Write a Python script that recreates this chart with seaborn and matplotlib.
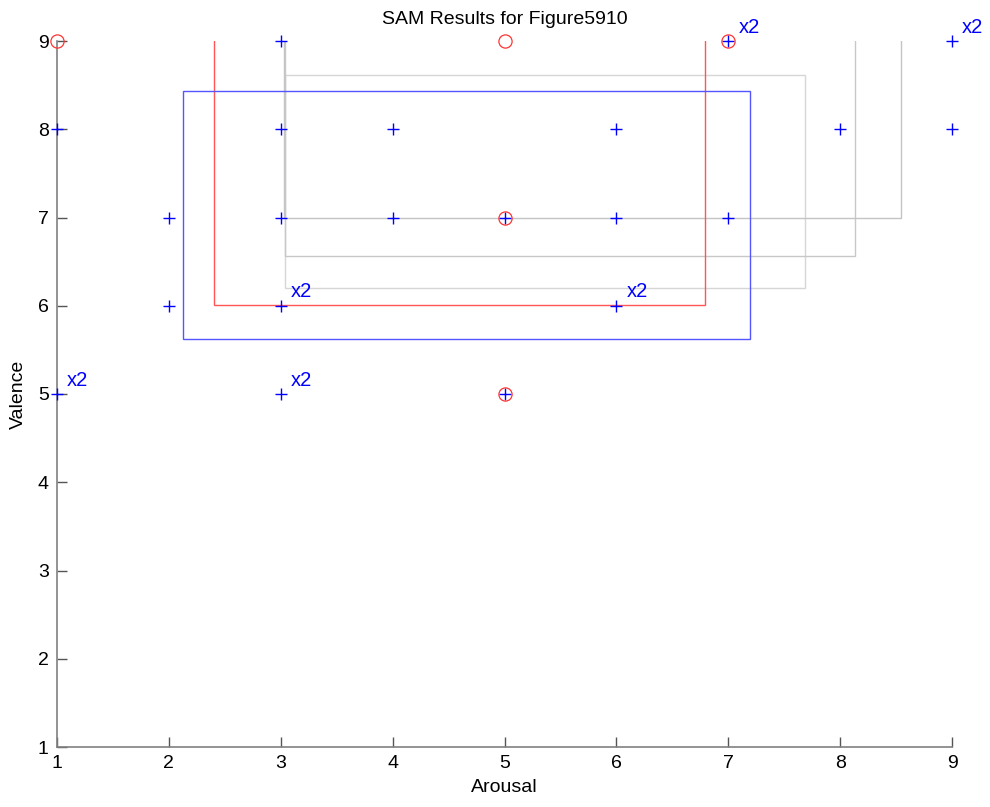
import matplotlib
matplotlib.use("Agg")
import matplotlib.pyplot as plt
import seaborn as sns
import pandas as pd
from matplotlib.patches import Rectangle

sns.set_theme(style="white")
plt.rcParams['font.family'] = ['Liberation Sans', 'DejaVu Sans']
plt.rcParams['text.color'] = 'black'
plt.rcParams['axes.labelcolor'] = 'black'

# Blue '+' responses (arousal, valence)
blue_x = [1, 1, 2, 2, 3, 3, 3, 3, 3, 4, 4, 5, 5, 6, 6, 6, 7, 7, 8, 9, 9]
blue_y = [8, 5, 7, 6, 9, 8, 7, 6, 5, 8, 7, 7, 5, 8, 7, 6, 9, 7, 8, 9, 8]

# Red circles
red_x = [1, 5, 5, 5, 7]
red_y = [9, 9, 7, 5, 9]

# Duplicate counts
dup_x = [1, 3, 3, 6, 7, 9]
dup_y = [5, 6, 5, 6, 9, 9]
dup_labels = ["x2", "x2", "x2", "x2", "x2", "x2"]

# Rectangles: (x0, y0, x1, y1)
rect_names = ["gray1", "gray2", "gray3", "red", "blue"]
rect_x0 = [3.04, 3.04, 3.03, 2.40, 2.13]
rect_y0 = [6.205, 6.565, 7.00, 6.01, 5.627]
rect_x1 = [7.69, 8.135, 8.545, 6.79, 7.19]
rect_y1 = [8.61, 9.40, 9.45, 9.35, 8.433]
rect_colors = ["#d6d6d6", "#c8c8c8", "#c4c4c4", "#ff5555", "#5555ff"]

fig = plt.figure(figsize=(9.9, 8.07), dpi=100)
ax = fig.add_axes([57/990, 1-747/807, (952-57)/990, (747-41)/807])

for x0, y0, x1, y1, c in zip(rect_x0, rect_y0, rect_x1, rect_y1, rect_colors):
    ax.add_patch(Rectangle((x0, y0), x1-x0, y1-y0, fill=False, edgecolor=c,
                           linewidth=1.0, clip_on=True))

dfb = pd.DataFrame({"Arousal": blue_x, "Valence": blue_y})
sns.scatterplot(data=dfb, x="Arousal", y="Valence", marker="+", color="blue",
                s=80, linewidth=1.0, ax=ax, zorder=3, clip_on=False)
ax.plot(red_x, red_y, linestyle="none", marker="o", markersize=9.5,
        markerfacecolor="none", markeredgecolor="#ff3333", markeredgewidth=0.9,
        zorder=4, clip_on=False)

for x, y, t in zip(dup_x, dup_y, dup_labels):
    ax.text(x + 0.09, y + 0.05, t, color="blue", fontsize=14.5, ha="left", va="bottom")

ax.set_xlim(1, 9)
ax.set_ylim(1, 9)
ax.set_xticks(range(1, 10))
ax.set_yticks(range(1, 10))
ax.set_xlabel("Arousal", fontsize=14, labelpad=5)
ax.set_ylabel("Valence", fontsize=14, labelpad=8)
ax.set_title("SAM Results for Figure5910", fontsize=14, pad=12)

for s in ["top", "right"]:
    ax.spines[s].set_visible(False)
for s in ["left", "bottom"]:
    ax.spines[s].set_color("#808080")
    ax.spines[s].set_linewidth(1.2)
ax.xaxis.set_tick_params(which="major", direction="in", length=7, width=1.0,
                         color="#555555", labelcolor="black", labelsize=14,
                         pad=6, bottom=True, top=False)
ax.yaxis.set_tick_params(which="major", direction="in", length=7, width=1.0,
                         color="#555555", labelcolor="black", labelsize=14,
                         pad=6, left=True, right=False)

fig.savefig("out.png", dpi=100)
